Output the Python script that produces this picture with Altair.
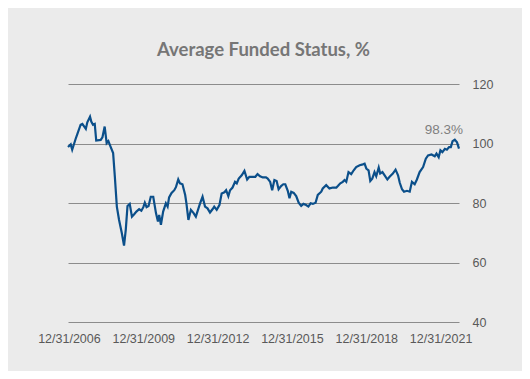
import altair as alt
import pandas as pd

# decimal-year positions and funded status values
years = [
    2006.96, 2007.07, 2007.13, 2007.27, 2007.34, 2007.47, 2007.54, 2007.68, 2007.74, 2007.85,
    2007.90, 2007.97, 2008.04, 2008.10, 2008.28, 2008.35, 2008.44, 2008.52, 2008.59, 2008.66,
    2008.78, 2008.85, 2008.93, 2009.02, 2009.13, 2009.22, 2009.29, 2009.36, 2009.45, 2009.54,
    2009.63, 2009.72, 2009.83, 2009.92, 2010.00, 2010.06, 2010.13, 2010.21, 2010.30, 2010.40,
    2010.51, 2010.59, 2010.64, 2010.71, 2010.80, 2010.91, 2010.98, 2011.04, 2011.14, 2011.25,
    2011.32, 2011.41, 2011.48, 2011.58, 2011.69, 2011.74, 2011.82, 2011.92, 2012.03, 2012.12,
    2012.29, 2012.39, 2012.49, 2012.59, 2012.69, 2012.79, 2012.86, 2012.96, 2013.07, 2013.16,
    2013.27, 2013.34, 2013.43, 2013.50, 2013.60, 2013.70, 2013.77, 2013.85, 2013.97, 2014.08,
    2014.19, 2014.28, 2014.41, 2014.52, 2014.61, 2014.71, 2014.82, 2014.95, 2015.02, 2015.12,
    2015.20, 2015.29, 2015.38, 2015.46, 2015.56, 2015.65, 2015.73, 2015.83, 2015.90, 2015.97,
    2016.07, 2016.17, 2016.27, 2016.37, 2016.46, 2016.57, 2016.66, 2016.75, 2016.84, 2016.95,
    2017.04, 2017.18, 2017.24, 2017.38, 2017.51, 2017.65, 2017.79, 2017.85, 2017.95, 2018.05,
    2018.12, 2018.19, 2018.28, 2018.39, 2018.49, 2018.59, 2018.73, 2018.86, 2018.93, 2019.00,
    2019.09, 2019.16, 2019.24, 2019.33, 2019.40, 2019.50, 2019.56, 2019.65, 2019.74, 2019.85,
    2019.94, 2020.07, 2020.18, 2020.28, 2020.35, 2020.44, 2020.52, 2020.64, 2020.75, 2020.84,
    2020.95, 2021.04, 2021.15, 2021.29, 2021.40, 2021.49, 2021.63, 2021.76, 2021.83, 2021.92,
    2021.99, 2022.07, 2022.17, 2022.25, 2022.34, 2022.41, 2022.48, 2022.57, 2022.66, 2022.74,
]
funded = [
    98.8, 99.7, 97.9, 101.6, 103.2, 106.3, 106.6, 104.9, 107.1, 109.0,
    107.4, 106.3, 106.6, 101.0, 101.2, 102.1, 105.7, 100.1, 100.8, 99.3,
    96.8, 88.8, 78.8, 74.3, 69.9, 65.7, 71.0, 79.0, 79.7, 75.4,
    76.2, 77.1, 77.9, 77.4, 78.6, 80.1, 78.6, 79.0, 82.1, 82.1,
    76.6, 73.8, 76.0, 72.7, 77.1, 79.9, 78.8, 81.9, 83.4, 84.3,
    85.4, 87.9, 86.6, 86.3, 82.7, 79.9, 74.3, 77.7, 76.6, 75.4,
    79.9, 82.1, 78.8, 78.2, 76.8, 77.9, 78.8, 77.7, 79.3, 83.2,
    83.6, 84.3, 82.3, 84.3, 85.2, 87.1, 86.6, 88.2, 89.3, 90.8,
    87.9, 88.8, 88.8, 88.8, 89.7, 89.0, 88.6, 88.6, 88.2, 87.1,
    84.3, 87.7, 87.4, 84.6, 85.7, 86.3, 86.3, 84.1, 81.6, 83.8,
    83.4, 82.3, 80.1, 79.0, 79.7, 79.3, 78.8, 79.9, 79.7, 80.1,
    82.7, 83.8, 84.9, 86.0, 84.9, 85.2, 85.2, 85.7, 86.6, 87.1,
    87.7, 87.1, 90.4, 89.7, 91.0, 92.1, 92.7, 93.0, 93.2, 91.6,
    91.0, 87.4, 88.2, 90.4, 89.0, 91.9, 89.9, 90.4, 89.3, 87.9,
    88.8, 89.9, 91.2, 89.3, 86.8, 84.6, 83.8, 84.1, 83.8, 87.1,
    86.3, 87.9, 90.4, 92.1, 94.9, 96.0, 96.3, 95.7, 96.6, 95.4,
    97.7, 97.1, 98.2, 97.9, 98.8, 98.8, 100.8, 101.3, 100.4, 98.3,
]
tick_years = [2006, 2009, 2012, 2015, 2018, 2021]
y_ticks = [40, 60, 80, 100, 120]
title_text = "Average Funded Status, %"
annotation_label = "98.3%"


def to_date(dec):
    yr = int(dec)
    start = pd.Timestamp(year=yr, month=1, day=1)
    end = pd.Timestamp(year=yr + 1, month=1, day=1)
    return start + (end - start) * (dec - yr)


df = pd.DataFrame({"date": [to_date(v) for v in years], "value": funded})
last = df.tail(1).assign(label=annotation_label)

FONT = "Liberation Sans"
x_enc = alt.X(
    "date:T",
    scale=alt.Scale(domain=[df["date"].iloc[0].isoformat(), df["date"].iloc[-1].isoformat()]),
    axis=alt.Axis(
        values=[alt.DateTime(year=y, month=12, date=31) for y in tick_years],
        format="%m/%d/%Y",
        title=None,
        grid=False,
        domain=False,
        ticks=False,
        labelPadding=10,
        labelFlush=False,
        labelOverlap=False,
    ),
)
y_enc = alt.Y(
    "value:Q",
    scale=alt.Scale(domain=[40, 120], nice=False, zero=False),
    axis=alt.Axis(
        orient="right",
        values=y_ticks,
        title=None,
        domain=False,
        ticks=False,
        labelPadding=13,
        labelAlign="left",
        gridColor="#8c8c8c",
        gridWidth=1,
    ),
)

line = alt.Chart(df).mark_line(color="#0b4f8a", strokeWidth=2.2).encode(x=x_enc, y=y_enc)
label = alt.Chart(last).mark_text(
    align="right", baseline="middle", dx=4, dy=-19, font=FONT, fontSize=13.5, color="#7f7f7f"
).encode(x="date:T", y="value:Q", text="label:N")

chart = (
    alt.layer(line, label)
    .properties(
        width=391,
        height=238,
        autosize=alt.AutoSizeParams(type="none"),
        padding={"left": 60, "top": 76, "right": 63, "bottom": 49},
        background="#ebebeb",
        title=alt.TitleParams(
            title_text,
            font="Lato",
            fontSize=18.5,
            fontWeight="bold",
            color="#767676",
            anchor="middle",
            frame="group",
            offset=19,
        ),
    )
    .configure_view(stroke=None)
    .configure_axis(labelFont=FONT, labelFontSize=12.5, labelColor="#595959")
)

chart.save("out.html", embed_options={"renderer": "svg", "actions": False})
